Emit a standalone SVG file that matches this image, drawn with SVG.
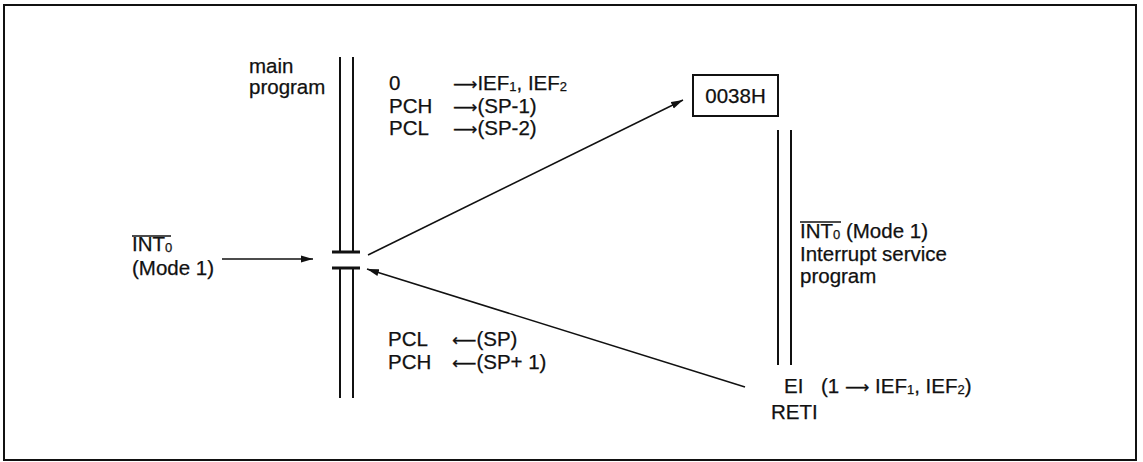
<svg xmlns="http://www.w3.org/2000/svg" width="1143" height="462" viewBox="0 0 1143 462">
<style>
text{font-family:"Liberation Sans",Arial,sans-serif;font-size:20.5px;fill:#111;stroke:#111;stroke-width:0.25}
.sub{font-size:13px}
.arr{font-family:"DejaVu Sans",sans-serif;font-size:17px}
.ln{stroke:#111;stroke-width:2;fill:none}
.bar{stroke:#111;stroke-width:3}
.conn{stroke:#111;stroke-width:1.5;fill:none;marker-end:url(#ah)}
</style>
<defs>
<marker id="ah" markerUnits="userSpaceOnUse" markerWidth="13" markerHeight="8" refX="12" refY="4" orient="auto">
<path d="M0,0.5 L12,4 L0,7.5 z" fill="#111"/>
</marker>
</defs>
<rect x="4" y="5" width="1132" height="455" class="ln"/>

<g id="main-program">
<line x1="340" y1="57" x2="340" y2="252" class="ln"/>
<line x1="353" y1="57" x2="353" y2="252" class="ln"/>
<line x1="332" y1="252" x2="360" y2="252" class="bar"/>
<line x1="332" y1="268" x2="360" y2="268" class="bar"/>
<line x1="340" y1="268" x2="340" y2="398" class="ln"/>
<line x1="353" y1="268" x2="353" y2="398" class="ln"/>
<text x="249" y="73">main</text>
<text x="249" y="94">program</text>
<text x="389" y="90">0</text>
<text x="453" y="90"><tspan class="arr">⟶</tspan>IEF<tspan class="sub" dy="1">1</tspan><tspan dy="-1">, IEF</tspan><tspan class="sub" dy="1">2</tspan></text>
<text x="389" y="113">PCH</text>
<text x="453" y="113"><tspan class="arr">⟶</tspan>(SP-1)</text>
<text x="389" y="135">PCL</text>
<text x="453" y="135"><tspan class="arr">⟶</tspan>(SP-2)</text>
<text x="388" y="346">PCL</text>
<text x="452" y="346"><tspan class="arr">⟵</tspan>(SP)</text>
<text x="388" y="369">PCH</text>
<text x="452" y="369"><tspan class="arr">⟵</tspan>(SP+ 1)</text>
</g>

<g id="int0-input">
<text x="132" y="251">INT<tspan class="sub" dy="1">0</tspan></text>
<line x1="132" y1="236" x2="171" y2="236" stroke="#111" stroke-width="1.5"/>
<text x="132" y="275">(Mode 1)</text>
</g>

<g id="vector-0038h">
<rect x="693" y="75" width="85" height="41" class="ln"/>
<text x="735.5" y="103" text-anchor="middle">0038H</text>
</g>

<g id="service-program">
<line x1="778" y1="130" x2="778" y2="365" class="ln"/>
<line x1="791" y1="130" x2="791" y2="365" class="ln"/>
<text x="800" y="238">INT<tspan class="sub" dy="1">0</tspan><tspan dy="-1"> (Mode 1)</tspan></text>
<line x1="800" y1="222" x2="841" y2="222" stroke="#111" stroke-width="1.5"/>
<text x="800" y="261">Interrupt service</text>
<text x="800" y="283">program</text>
<text x="784" y="393">EI</text>
<text x="821" y="393">(1 <tspan class="arr">⟶</tspan> IEF<tspan class="sub" dy="1">1</tspan><tspan dy="-1">, IEF</tspan><tspan class="sub" dy="1">2</tspan><tspan dy="-1">)</tspan></text>
<text x="771" y="419">RETI</text>
</g>

<g id="connectors">
<line x1="222" y1="259" x2="313" y2="259" class="conn"/>
<line x1="368" y1="255" x2="683" y2="100" class="conn"/>
<line x1="745" y1="387" x2="367" y2="269" class="conn"/>
</g>
</svg>
